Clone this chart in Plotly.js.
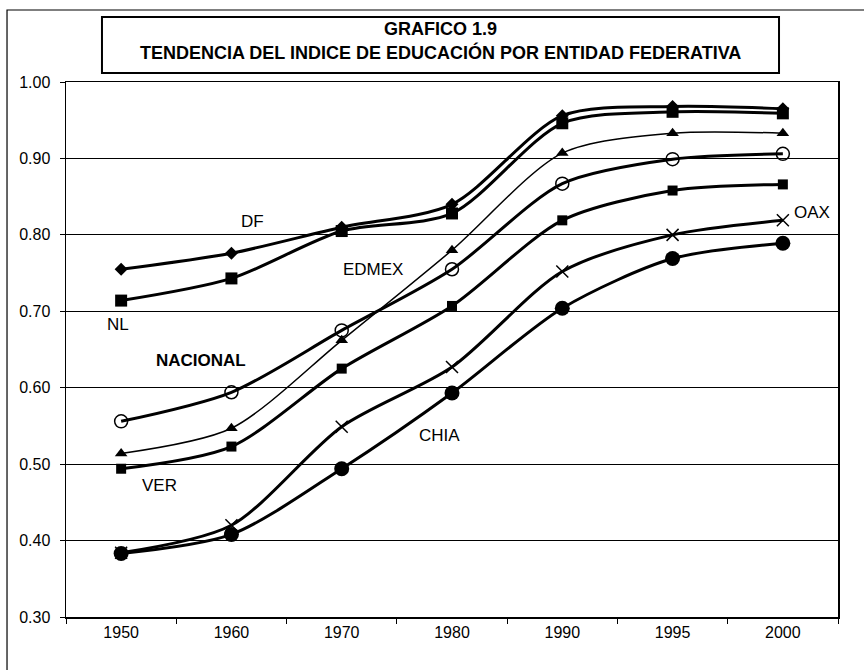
<!DOCTYPE html>
<html>
<head>
<meta charset="utf-8">
<script src="https://cdn.plot.ly/plotly-3.0.1.min.js"></script>
<style>html,body{margin:0;padding:0;background:#fff;}#chart{width:864px;height:670px;}</style>
</head>
<body>
<div id="chart"></div>
<script>
var years = ["1950", "1960", "1970", "1980", "1990", "1995", "2000"];
var dfValues = [0.755, 0.776, 0.810, 0.840, 0.956, 0.968, 0.965];
var nlValues = [0.714, 0.743, 0.805, 0.828, 0.946, 0.961, 0.959];
var edmexValues = [0.514, 0.547, 0.662, 0.780, 0.907, 0.933, 0.933];
var nacionalValues = [0.556, 0.594, 0.675, 0.755, 0.867, 0.899, 0.906];
var verValues = [0.494, 0.523, 0.625, 0.707, 0.819, 0.858, 0.866];
var oaxValues = [0.384, 0.420, 0.549, 0.627, 0.752, 0.800, 0.819];
var chiaValues = [0.383, 0.408, 0.494, 0.593, 0.704, 0.769, 0.789];
var yTicks = [0.30, 0.40, 0.50, 0.60, 0.70, 0.80, 0.90, 1.00];
var titleLine1 = "GRAFICO 1.9";
var titleLine2 = "TENDENCIA DEL INDICE DE EDUCACIÓN POR ENTIDAD FEDERATIVA";

var FONT = "Liberation Sans, Arial, sans-serif";

function series(name, vals, lw, marker) {
  return {
    x: years, y: vals, name: name, type: "scatter", mode: "lines+markers",
    line: {color: "#000", width: lw, shape: "spline", smoothing: 0.8},
    marker: marker, cliponaxis: false
  };
}

var traces = [
  series("CHIA", chiaValues, 3, {symbol: "circle", size: 15, color: "#000"}),
  series("OAX", oaxValues, 3, {symbol: "x-thin", size: 12, color: "#000", line: {color: "#000", width: 1.5}}),
  series("VER", verValues, 3, {symbol: "square", size: 10, color: "#000"}),
  series("NACIONAL", nacionalValues, 3, {symbol: "circle-open", size: 13, color: "#000", line: {color: "#000", width: 1.5}}),
  series("EDMEX", edmexValues, 1.5, {symbol: "triangle-up", size: 11, color: "#000"}),
  series("NL", nlValues, 3, {symbol: "square", size: 12, color: "#000"}),
  series("DF", dfValues, 3, {symbol: "diamond", size: 10, color: "#000"})
];

function lab(text, x, y, bold) {
  return {text: bold ? "<b>" + text + "</b>" : text, x: x, y: y, xref: "x", yref: "y",
          showarrow: false, font: {family: FONT, size: 17, color: "#000"}};
}

var layout = {
  width: 864, height: 670,
  margin: {l: 66, r: 26, t: 82, b: 53},
  paper_bgcolor: "#fff", plot_bgcolor: "#fff",
  showlegend: false,
  font: {family: FONT, size: 16, color: "#000"},
  xaxis: {
    type: "category", range: [-0.5, 6.5],
    tickson: "boundaries", ticks: "outside", ticklen: 5, tickcolor: "#000",
    showline: true, linecolor: "#000", linewidth: 1.5, mirror: true,
    showgrid: false, zeroline: false,
    tickfont: {family: FONT, size: 16, color: "#000"}
  },
  yaxis: {
    range: [0.3, 1.0], tickvals: yTicks, tickformat: ".2f",
    ticks: "outside", ticklen: 5, tickcolor: "#000", ticklabelstandoff: 6,
    showline: true, linecolor: "#000", linewidth: 1.5, mirror: true,
    showgrid: true, gridcolor: "#000", gridwidth: 1, zeroline: false,
    tickfont: {family: FONT, size: 16, color: "#000"}
  },
  shapes: [
    {type: "rect", xref: "paper", yref: "paper", x0: -0.0764, x1: 1.06, y0: -0.15, y1: 1.1346,
     line: {color: "#000", width: 1.2}, fillcolor: "rgba(0,0,0,0)", layer: "below"},
    {type: "rect", xref: "paper", yref: "paper", x0: 0.0466, x1: 0.9236, y0: 1.0168, y1: 1.1215,
     line: {color: "#000", width: 2}, fillcolor: "#fff"}
  ],
  annotations: [
    {text: "<b>" + titleLine1 + "</b>", xref: "paper", yref: "paper", x: 0.4851, y: 1.099,
     xanchor: "center", yanchor: "middle",
     showarrow: false, font: {family: FONT, size: 18, color: "#000"}},
    {text: "<b>" + titleLine2 + "</b>", xref: "paper", yref: "paper", x: 0.4851, y: 1.056,
     xanchor: "center", yanchor: "middle",
     showarrow: false, font: {family: FONT, size: 18, color: "#000"}},
    lab("DF", 1.19, 0.817, false),
    lab("NL", -0.03, 0.683, false),
    lab("NACIONAL", 0.72, 0.636, true),
    lab("VER", 0.35, 0.472, false),
    lab("EDMEX", 2.28, 0.755, false),
    lab("CHIA", 2.89, 0.538, false),
    lab("OAX", 6.26, 0.829, false)
  ]
};

Plotly.newPlot("chart", traces, layout, {staticPlot: true, displayModeBar: false});
</script>
</body>
</html>
